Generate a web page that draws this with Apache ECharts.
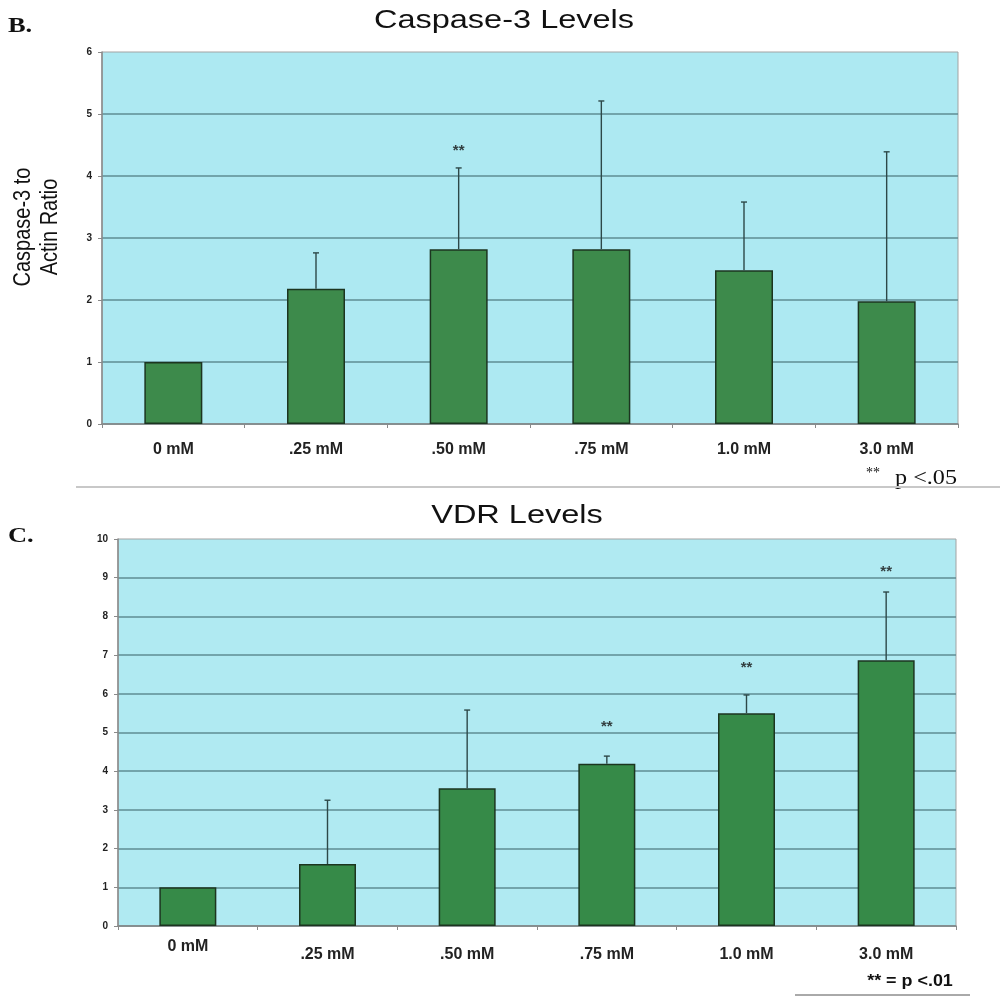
<!DOCTYPE html>
<html>
<head>
<meta charset="utf-8">
<script src="https://cdn.jsdelivr.net/npm/echarts@6/dist/echarts.min.js"></script>
<style>
html,body{margin:0;padding:0;background:#fff;}
#chart{width:1000px;height:996px;}
</style>
</head>
<body>
<div id="chart"></div>
<script>
const categories = ['0 mM', '.25 mM', '.50 mM', '.75 mM', '1.0 mM', '3.0 mM'];
const caspaseMean = [1.0, 2.18, 2.82, 2.82, 2.48, 1.98];
const caspaseErr = [0, 0.58, 1.31, 2.39, 1.10, 2.41];
const caspaseStars = [null, null, 4.47, null, null, null];
const vdrMean = [1.0, 1.6, 3.56, 4.19, 5.5, 6.87];
const vdrErr = [0, 1.65, 2.02, 0.2, 0.47, 1.76];
const vdrStars = [null, null, null, 5.25, 6.77, 9.25];
const caspaseAxis = {min: 0, max: 6, interval: 1};
const vdrAxis = {min: 0, max: 10, interval: 1};

const chart = echarts.init(document.getElementById('chart'), null, {renderer: 'canvas'});

function errRender(params, api) {
  const e = api.value(2);
  if (!e) return null;
  const i = api.value(0);
  const m = api.value(1);
  const p0 = api.coord([i, m]);
  const p1 = api.coord([i, m + e]);
  const cw = 3;
  const st = {stroke: '#2d4848', lineWidth: 1.4};
  return {
    type: 'group',
    children: [
      {type: 'line', shape: {x1: p0[0], y1: p0[1], x2: p1[0], y2: p1[1]}, style: st},
      {type: 'line', shape: {x1: p1[0] - cw, y1: p1[1], x2: p1[0] + cw, y2: p1[1]}, style: st}
    ]
  };
}

function xAxisCfg(gridIndex, rich) {
  return {
    type: 'category', gridIndex: gridIndex, data: categories,
    axisLine: {show: true, lineStyle: {color: '#8a8a8a', width: 1.5}},
    axisTick: {show: true, length: 4, lineStyle: {color: '#8a8a8a'}},
    axisLabel: rich
  };
}
function yAxisCfg(gridIndex, ax, margin) {
  return {
    type: 'value', gridIndex: gridIndex, min: ax.min, max: ax.max, interval: ax.interval,
    axisLine: {show: true, lineStyle: {color: '#8a8a8a', width: 1.5}},
    axisTick: {show: true, length: 4, lineStyle: {color: '#8a8a8a'}},
    axisLabel: {fontFamily: 'Arial', fontWeight: 'bold', fontSize: 10, color: '#222', margin: margin},
    splitLine: {show: true, showMaxLine: false, lineStyle: {color: '#5f8d93', width: 1.6}}
  };
}

const starLabel = {
  show: true, position: 'inside', formatter: '**',
  fontFamily: 'Arial', fontWeight: 'bold', fontSize: 15, color: '#111', offset: [0, 4]
};

const option = {
  animation: false,
  backgroundColor: '#ffffff',
  grid: [
    {left: 102, top: 52, width: 856, height: 372, show: true, backgroundColor: '#ade9f2', borderColor: '#a3a3a3', borderWidth: 1},
    {left: 118, top: 539, width: 838, height: 387, show: true, backgroundColor: '#b0eaf2', borderColor: '#a3a3a3', borderWidth: 1}
  ],
  xAxis: [
    xAxisCfg(0, {fontFamily: 'Arial', fontWeight: 'bold', fontSize: 16, color: '#222', margin: 18}),
    xAxisCfg(1, {
      fontFamily: 'Arial', fontWeight: 'bold', fontSize: 16, color: '#222', margin: 13,
      formatter: function (v, i) { return i === 0 ? '{a|' + v + '}' : '{b|' + v + '}'; },
      rich: {
        a: {fontFamily: 'Arial', fontWeight: 'bold', fontSize: 16, color: '#222'},
        b: {fontFamily: 'Arial', fontWeight: 'bold', fontSize: 16, color: '#222', padding: [8, 0, 0, 0]}
      }
    })
  ],
  yAxis: [
    yAxisCfg(0, caspaseAxis, 10),
    yAxisCfg(1, vdrAxis, 10)
  ],
  series: [
    {type: 'bar', xAxisIndex: 0, yAxisIndex: 0, data: caspaseMean, barWidth: 58,
      itemStyle: {color: '#3d8a4b', borderColor: '#1c3520', borderWidth: 1.5}},
    {type: 'custom', xAxisIndex: 0, yAxisIndex: 0, renderItem: errRender, z: 5,
      data: categories.map((c, i) => [i, caspaseMean[i], caspaseErr[i]])},
    {type: 'scatter', xAxisIndex: 0, yAxisIndex: 0, symbolSize: 1, itemStyle: {color: 'rgba(0,0,0,0)'},
      label: starLabel, z: 6,
      data: caspaseStars.map((v, i) => v == null ? null : [i, v]).filter(d => d)},
    {type: 'bar', xAxisIndex: 1, yAxisIndex: 1, data: vdrMean, barWidth: 57,
      itemStyle: {color: '#368a48', borderColor: '#1c3520', borderWidth: 1.5}},
    {type: 'custom', xAxisIndex: 1, yAxisIndex: 1, renderItem: errRender, z: 5,
      data: categories.map((c, i) => [i, vdrMean[i], vdrErr[i]])},
    {type: 'scatter', xAxisIndex: 1, yAxisIndex: 1, symbolSize: 1, itemStyle: {color: 'rgba(0,0,0,0)'},
      label: starLabel, z: 6,
      data: vdrStars.map((v, i) => v == null ? null : [i, v]).filter(d => d)}
  ],
  graphic: [
    {type: 'text', x: 8, y: 26, scaleX: 1.2,
      style: {text: 'B.', font: 'bold 22px "Liberation Serif"', fill: '#111', textAlign: 'left', textVerticalAlign: 'middle'}},
    {type: 'text', x: 504, y: 21, scaleX: 1.25,
      style: {text: 'Caspase-3 Levels', font: '26px Arial', fill: '#111', textAlign: 'center', textVerticalAlign: 'middle'}},
    {type: 'text', x: 37.5, y: 227, rotation: Math.PI / 2, scaleY: 1.15,
      style: {text: 'Caspase-3 to\nActin Ratio', font: '20px Arial', lineHeight: 23.5, fill: '#111', textAlign: 'center', textVerticalAlign: 'middle'}},
    {type: 'text', x: 866, y: 473, style: {text: '**', font: '14px "Liberation Serif"', fill: '#111', textAlign: 'left', textVerticalAlign: 'middle'}},
    {type: 'text', x: 957, y: 478, scaleX: 1.15,
      style: {text: 'p <.05', font: '21px "Liberation Serif"', fill: '#111', textAlign: 'right', textVerticalAlign: 'middle'}},
    {type: 'line', shape: {x1: 76, y1: 487, x2: 1000, y2: 487}, style: {stroke: '#c8c8c8', lineWidth: 2}},
    {type: 'text', x: 8, y: 536, scaleX: 1.2,
      style: {text: 'C.', font: 'bold 22px "Liberation Serif"', fill: '#111', textAlign: 'left', textVerticalAlign: 'middle'}},
    {type: 'text', x: 517, y: 516, scaleX: 1.25,
      style: {text: 'VDR Levels', font: '26px Arial', fill: '#111', textAlign: 'center', textVerticalAlign: 'middle'}},
    {type: 'text', x: 910, y: 982, scaleX: 1.12,
      style: {text: '** = p <.01', font: 'bold 16px Arial', fill: '#111', textAlign: 'center', textVerticalAlign: 'middle'}},
    {type: 'line', shape: {x1: 795, y1: 995, x2: 970, y2: 995}, style: {stroke: '#555', lineWidth: 1}}
  ]
};
chart.setOption(option);
</script>
</body>
</html>
